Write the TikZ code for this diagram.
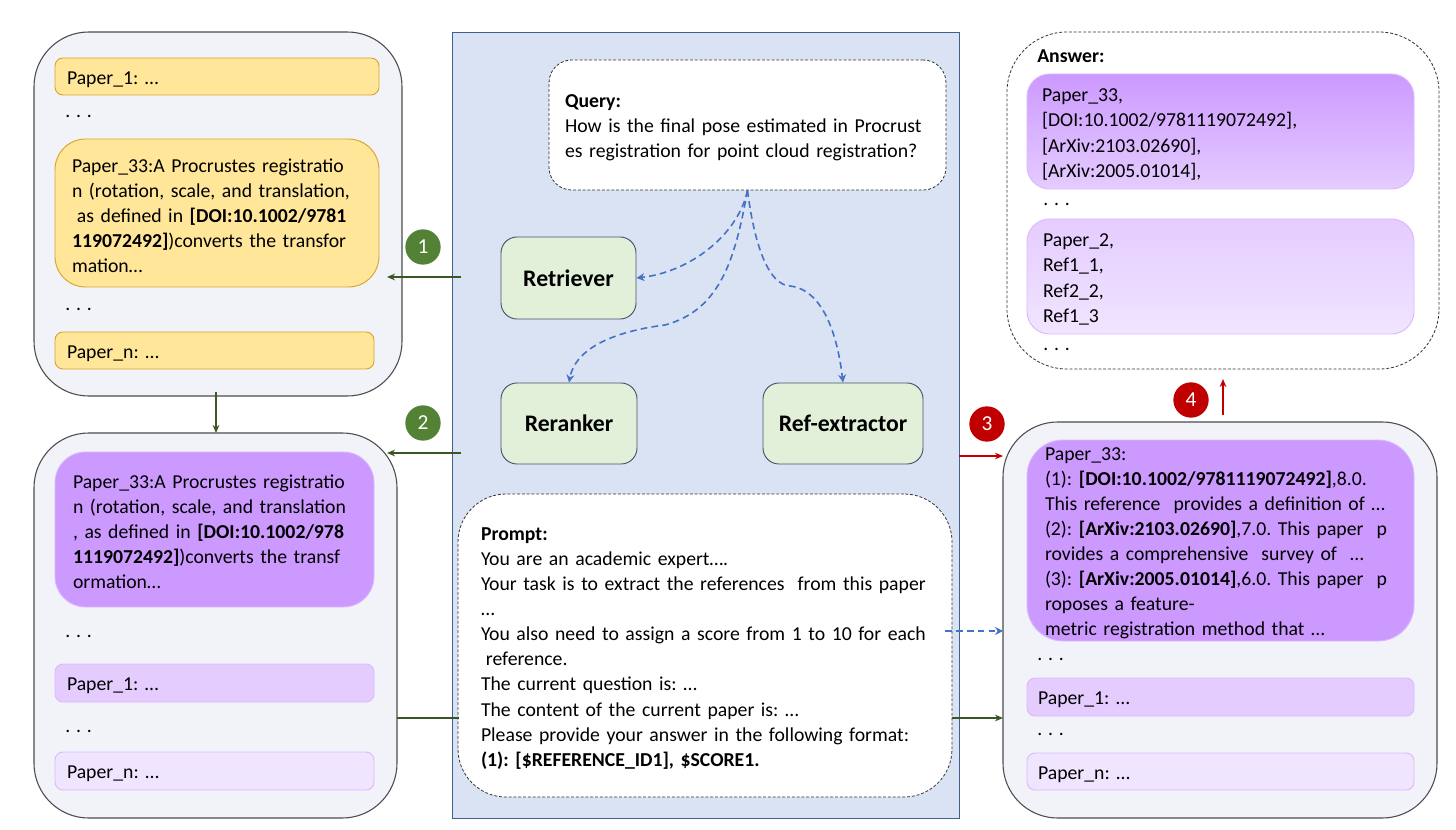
\documentclass[tikz,border=0pt]{standalone}
\usepackage{fontspec}
\setmainfont{Carlito}
\usetikzlibrary{arrows.meta}
\frenchspacing
\definecolor{paperY}{HTML}{FFE699}
\definecolor{paperYline}{HTML}{D6A62C}
\definecolor{purpleA}{HTML}{CC99FF}
\definecolor{purpleB}{HTML}{E5CCFF}
\definecolor{purpleC}{HTML}{F0E5FF}
\definecolor{outerfill}{HTML}{F2F3F9}
\definecolor{panelfill}{HTML}{DAE3F3}
\definecolor{panelline}{HTML}{41608F}
\definecolor{stepfill}{HTML}{E2F0D9}
\definecolor{stepline}{HTML}{44546A}
\definecolor{greenline}{HTML}{385723}
\definecolor{greendot}{HTML}{548235}
\definecolor{reddot}{HTML}{C00000}
\definecolor{blueline}{HTML}{4472C4}
\tikzset{
    sized/.style n args={3}{minimum width=#1*.75pt, minimum height=#2*.75pt, inner xsep=#3*.75pt, inner ysep=0pt, text width=(#1-2*#3)*.75pt, align=left, execute at begin node={\leavevmode\rule{0pt}{14pt}}},
    txt/.style={font=\fontsize{14.8}{18.8}\selectfont},
    outerbox/.style={draw=black!70, fill=outerfill, rounded corners=41pt, line width=.8pt},
    dashbox/.style={draw=black!80, fill=white, dashed, dash pattern=on 2.2pt off 1.4pt, line width=.6pt},
    papery/.style={txt, draw=paperYline, fill=paperY, line width=.7pt},
    purplebox/.style={txt, draw=purpleA!70, fill=#1, line width=.7pt},
    stepbox/.style={draw=stepline, fill=stepfill, rounded corners=12pt, line width=.7pt, font=\fontsize{17.8}{20}\selectfont\bfseries, align=center},
    dotsnode/.style={txt, anchor=west, inner sep=0pt},
    numdot/.style={circle, fill=#1, text=white, minimum size=26.5pt, inner sep=0pt, font=\fontsize{16}{18}\selectfont},
    greenarrow/.style={draw=greenline, line width=.9pt, -{Stealth[length=6pt,width=5pt]}},
    redarrow/.style={draw=reddot, line width=.9pt, -{Stealth[length=6pt,width=5pt]}},
    bluearrow/.style={draw=blueline, line width=1.2pt, dashed, dash pattern=on 5pt off 3.2pt, -{Stealth[length=6pt,width=6pt]}}
}
\newcommand{\threedots}{.\ \hspace{1pt}.\ \hspace{1pt}.}
\begin{document}
\begin{tikzpicture}[x=.75pt, y=-.75pt]
    \useasboundingbox (0,0) rectangle (1456,830);

    \node (panel) at (705.5,425) [draw=panelline, fill=panelfill, line width=.65pt, minimum width=507*.75pt, minimum height=786*.75pt] {};

    \node (query) at (747.5,125) [txt, dashbox, rounded corners=17pt, sized={397}{130}{16}] {\textbf{Query:}\\How is the final pose estimated in Procrust\\es registration for point cloud registration?};
    \node (retriever) at (568.5,278) [stepbox, minimum width=135*.75pt, minimum height=82*.75pt] {Retriever};
    \node (reranker) at (569,423.5) [stepbox, minimum width=136*.75pt, minimum height=81*.75pt] {Reranker};
    \node (refext) at (843,423.5) [stepbox, minimum width=160*.75pt, minimum height=81*.75pt] {Ref-extractor};
    \node (prompt) at (705,645.5) [txt, dashbox, rounded corners=36pt, sized={494}{303}{23}] {\textbf{Prompt:}\\You are an academic expert….\\Your task is to extract the references\ \ from this paper\\…\\You also need to assign a score from 1 to 10 for each\\\hspace*{.25em}reference.\\The current question is: …\\The content of the current paper is: …\\Please provide your answer in the following format:\\\textbf{(1): [\$REFERENCE\_ID1], \$SCORE1.}};

    \node (retrieved) at (218,214) [outerbox, minimum width=368*.75pt, minimum height=364*.75pt] {};
    \node (y1) at (217,76.5) [papery, rounded corners=6pt, sized={324}{37}{12}] {Paper\_1: …};
    \node at (65,116) [dotsnode] (dotsa) {\threedots};
    \node (y33) at (217,213) [papery, rounded corners=23pt, sized={324}{148}{17}] {Paper\_33:A Procrustes registratio\\n (rotation, scale, and translation,\\\hspace*{.25em}as defined in \textbf{[DOI:10.1002/9781}\\\textbf{119072492]})converts the transfor\\mation…};
    \node at (65,309) [dotsnode] (dotsb) {\threedots};
    \node (yn) at (214.5,350.5) [papery, rounded corners=6pt, sized={319}{37}{12}] {Paper\_n: …};

    \node (reranked) at (215.5,625.5) [outerbox, minimum width=363*.75pt, minimum height=385*.75pt] {};
    \node (m33) at (214.5,529.5) [purplebox=purpleA, rounded corners=23pt, sized={319}{155}{18}] {Paper\_33:A Procrustes registratio\\n (rotation, scale, and translation\\, as defined in \textbf{[DOI:10.1002/978}\\\textbf{1119072492]})converts the transf\\ormation…};
    \node at (65,636) [dotsnode] (dotsc) {\threedots};
    \node (m1) at (214.5,683) [purplebox=purpleB, rounded corners=6pt, sized={319}{38}{12}] {Paper\_1: …};
    \node at (65,731) [dotsnode] (dotsd) {\threedots};
    \node (mn) at (214.5,771) [purplebox=purpleC, rounded corners=6pt, sized={319}{38}{12}] {Paper\_n: …};

    \node (extracted) at (1220,620) [outerbox, minimum width=434*.75pt, minimum height=396*.75pt] {};
    \node (r33) at (1220.5,540.5) [purplebox=purpleA, rounded corners=27pt, sized={387}{201}{18}] {Paper\_33:\\(1): \textbf{[DOI:10.1002/9781119072492]},8.0.\\This reference\ \ provides a definition of …\\(2): \textbf{[ArXiv:2103.02690]},7.0. This paper\ \ p\\rovides a comprehensive\ \ survey of\ \ …\\(3): \textbf{[ArXiv:2005.01014]},6.0. This paper\ \ p\\roposes a feature-\\metric registration method that …};
    \node at (1037,659) [dotsnode] (dotse) {\threedots};
    \node (r1) at (1220.5,697) [purplebox=purpleB, rounded corners=6pt, sized={387}{38}{11}] {Paper\_1: …};
    \node at (1037,734) [dotsnode] (dotsf) {\threedots};
    \node (rn) at (1220.5,771.5) [purplebox=purpleC, rounded corners=6pt, sized={387}{37}{11}] {Paper\_n: …};

    \node (answer) at (1223,200.5) [dashbox, rounded corners=45pt, minimum width=432*.75pt, minimum height=337*.75pt] {};
    \node at (1037,56) [txt, anchor=west, inner sep=0pt, font=\fontsize{14.8}{18.8}\selectfont\bfseries] (answerlabel) {Answer:};
    \node (a1) at (1220.5,131.5) [txt, draw=purpleA!70, top color=purpleA, bottom color=purpleB, line width=.7pt, rounded corners=17pt, sized={387}{115}{15}] {Paper\_33,\\{[}DOI:10.1002/9781119072492],\\{[}ArXiv:2103.02690],\\{[}ArXiv:2005.01014],};
    \node at (1043,204) [dotsnode] (dotsg) {\threedots};
    \node (a2) at (1220.5,276.5) [txt, draw=purpleA!70, top color=purpleB, bottom color=purpleC, line width=.7pt, rounded corners=17pt, sized={387}{115}{16}] {Paper\_2,\\Ref1\_1,\\Ref2\_2,\\Ref1\_3};
    \node at (1043,349) [dotsnode] (dotsh) {\threedots};

    \node (one) at (423,247) [numdot=greendot] {1};
    \node (two) at (423,423) [numdot=greendot] {2};
    \node (three) at (987,424) [numdot=reddot] {3};
    \node (four) at (1191,400) [numdot=reddot] {4};

    \coordinate (g1s) at (461,277);
    \coordinate (g1e) at (387,277);
    \coordinate (g2s) at (461,453);
    \coordinate (g2e) at (387,453);
    \coordinate (gds) at (216,392);
    \coordinate (gde) at (216,433);
    \coordinate (gls) at (397,718);
    \coordinate (gle) at (459,718);
    \coordinate (grs) at (952,718);
    \coordinate (gre) at (1003,718);
    \coordinate (r3s) at (959,456);
    \coordinate (r3e) at (1003,456);
    \coordinate (r4s) at (1223,415);
    \coordinate (r4e) at (1223,379);
    \coordinate (bls) at (945,631);
    \coordinate (ble) at (1003,631);

    \draw[greenarrow] (g1s) -- (g1e);
    \draw[greenarrow] (g2s) -- (g2e);
    \draw[greenarrow] (gds) -- (gde);
    \draw[draw=greenline, line width=.9pt] (gls) -- (gle);
    \draw[greenarrow] (grs) -- (gre);
    \draw[redarrow] (r3s) -- (r3e);
    \draw[redarrow] (r4s) -- (r4e);
    \draw[bluearrow] (bls) -- (ble);

    \draw[bluearrow] (query.south) .. controls (738,235) and (690,272) .. (retriever.east);
    \draw[bluearrow] (query.south) .. controls (735,260) and (720,310) .. (665,325) .. controls (610,332) and (575,350) .. (reranker.north);
    \draw[bluearrow] (query.south) .. controls (755,250) and (770,285) .. (790,286) .. controls (825,290) and (838,340) .. (refext.north);
\end{tikzpicture}
\end{document}
